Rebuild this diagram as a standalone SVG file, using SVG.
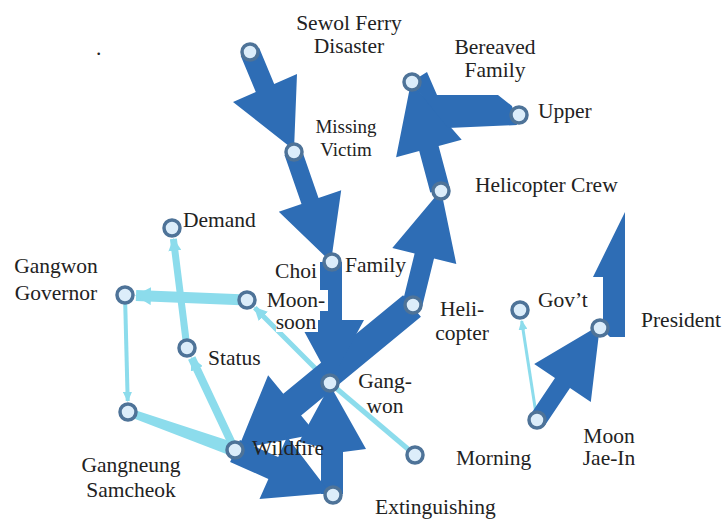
<svg xmlns="http://www.w3.org/2000/svg" width="722" height="524" viewBox="0 0 722 524">
<defs>
<style>
.lbl{font-family:"Liberation Serif","Times New Roman",serif;font-size:21.5px;fill:#222}
.sm{font-size:19px}
.mid{text-anchor:middle}
.nd{fill:#dcedfa;stroke:#4e7398;stroke-width:3.5}
.dk{fill:#2e6db5}
.lt{stroke:#8cdcec;fill:none}
.ltf{fill:#8cdcec}
.bg{fill:#ffffff}
</style>
<marker id="lh" markerUnits="userSpaceOnUse" markerWidth="16" markerHeight="18" refX="15" refY="9" orient="auto"><path d="M0,0 L16,9 L0,18 z" fill="#8cdcec"/></marker>
<marker id="mh" markerUnits="userSpaceOnUse" markerWidth="13" markerHeight="13" refX="12" refY="6.5" orient="auto"><path d="M0,0 L13,6.5 L0,13 z" fill="#8cdcec"/></marker>
<marker id="sh" markerUnits="userSpaceOnUse" markerWidth="10" markerHeight="9" refX="9" refY="4.5" orient="auto"><path d="M0,0 L10,4.5 L0,9 z" fill="#8cdcec"/></marker>
</defs>
<rect width="722" height="524" fill="#ffffff"/>
<g id="connectors">
<g id="light-edges">
<line class="lt" x1="247" y1="300" x2="136" y2="295.5" stroke-width="11" marker-end="url(#lh)"/>
<line class="lt" x1="187" y1="348" x2="173.4" y2="238.9" stroke-width="7" marker-end="url(#mh)"/>
<line class="lt" x1="125" y1="295" x2="127.7" y2="401" stroke-width="4" marker-end="url(#sh)"/>
<polygon class="ltf" points="129.3,408.2 237.3,443.4 232.7,456.6 126.7,415.8"/>
<line class="lt" x1="235" y1="450" x2="191.7" y2="358" stroke-width="8" marker-end="url(#mh)"/>
<line class="lt" x1="330" y1="383" x2="254.8" y2="307.8" stroke-width="5" marker-end="url(#mh)"/>
<line class="lt" x1="330" y1="383" x2="415" y2="455" stroke-width="5"/>
<line class="lt" x1="537" y1="420" x2="521.7" y2="320.9" stroke-width="3" marker-end="url(#sh)"/>
</g>
<g id="dark-edges">
<polygon class="dk" points="403.1,295.2 283.3,393.8 268.1,375.2 238,449 316.3,434 301.1,415.4 420.9,316.8"/>
<polygon class="dk" points="320,262 320,320 298,320 331,381 364,320 342,320 342,262"/>
<polygon class="dk" points="321,494 321,447 299,442 330,385 366,449 343,452 343,494"/>
<polygon class="dk" points="239.9,440 278.2,456.9 287.1,436.8 330,493 259.5,499 268.4,478.9 230.1,462"/>
<polygon class="dk" points="240.8,56 255.8,92 233,102 294,150 297,74 274.2,84 259.2,48"/>
<polygon class="dk" points="284.5,154.9 301.5,203.9 278.8,211.8 331,262 341.2,190.2 318.5,198.1 301.5,149.1"/>
<polygon class="dk" points="402.3,303.6 414.6,253.6 392.3,248.1 441,190 456.3,263.9 434,258.4 421.7,308.4"/>
<polygon class="dk" points="430.3,192.6 419.2,151.1 396.1,157.3 411,82 461.7,139.7 438.6,145.9 449.7,187.4"/>
<polygon class="dk" points="498,95 437,95 427,72 411,82 448,128 517,125 512,106"/>
<polygon class="dk" points="529.5,416 555,378 534.2,364.1 600,325 590.8,401.9 570,388 544.5,426"/>
<polygon class="dk" points="625,212 593,277 603,277 603,330 610,337 625,337"/>
</g>
</g>
<text class="lbl" x="96" y="55">.</text>
<g id="n-sewol"><circle class="nd" cx="250" cy="52" r="8"/><text class="lbl mid" x="349" y="30">Sewol Ferry</text><text class="lbl mid" x="349" y="53">Disaster</text></g>
<g id="n-missing"><circle class="nd" cx="294" cy="152" r="8"/><text class="lbl sm mid" x="346" y="133">Missing</text><text class="lbl sm mid" x="346" y="156">Victim</text></g>
<g id="n-bereaved"><circle class="nd" cx="412" cy="82" r="8"/><text class="lbl mid" x="495" y="54">Bereaved</text><text class="lbl mid" x="495" y="77">Family</text></g>
<g id="n-upper"><circle class="nd" cx="519" cy="115" r="8"/><text class="lbl" x="538" y="118">Upper</text></g>
<g id="n-helicrew"><circle class="nd" cx="441" cy="191" r="8"/><text class="lbl" x="475" y="192">Helicopter Crew</text></g>
<g id="n-demand"><circle class="nd" cx="172" cy="228" r="8"/><text class="lbl" x="183" y="227">Demand</text></g>
<g id="n-governor"><circle class="nd" cx="125" cy="295" r="8"/><text class="lbl mid" x="56" y="273">Gangwon</text><text class="lbl mid" x="56" y="300">Governor</text></g>
<g id="n-choi"><circle class="nd" cx="247" cy="300" r="8"/><rect class="bg" x="273" y="262" width="44" height="20"/><rect class="bg" x="266" y="290" width="62" height="21"/><rect class="bg" x="276" y="314" width="42" height="18"/><text class="lbl mid" x="296" y="278">Choi</text><text class="lbl mid" x="296" y="307">Moon-</text><text class="lbl mid" x="296" y="329">soon</text></g>
<g id="n-family"><circle class="nd" cx="332" cy="262" r="8"/><text class="lbl" x="345" y="272">Family</text></g>
<g id="n-helicopter"><circle class="nd" cx="413" cy="305" r="8"/><text class="lbl mid" x="462" y="316">Heli-</text><text class="lbl mid" x="462" y="340">copter</text></g>
<g id="n-status"><circle class="nd" cx="187" cy="348" r="8"/><text class="lbl" x="208" y="365">Status</text></g>
<g id="n-gangwon"><circle class="nd" cx="330" cy="383" r="8"/><text class="lbl mid" x="385" y="388">Gang-</text><text class="lbl mid" x="385" y="413">won</text></g>
<g id="n-gangneung"><circle class="nd" cx="128" cy="412" r="8"/><text class="lbl mid" x="131" y="472">Gangneung</text><text class="lbl mid" x="131" y="497">Samcheok</text></g>
<g id="n-wildfire"><circle class="nd" cx="235" cy="450" r="8"/><text class="lbl" x="252" y="455">Wildfire</text></g>
<g id="n-extinguishing"><circle class="nd" cx="333" cy="495" r="8"/><text class="lbl" x="375" y="514">Extinguishing</text></g>
<g id="n-morning"><circle class="nd" cx="415" cy="455" r="8"/><text class="lbl" x="456" y="465">Morning</text></g>
<g id="n-govt"><circle class="nd" cx="520" cy="310" r="8"/><text class="lbl" x="538" y="307">Gov’t</text></g>
<g id="n-president"><circle class="nd" cx="600" cy="328" r="8"/><text class="lbl" x="641" y="327">President</text></g>
<g id="n-moon"><circle class="nd" cx="537" cy="420" r="8"/><text class="lbl mid" x="609" y="443">Moon</text><text class="lbl mid" x="609" y="465">Jae-In</text></g>
</svg>
